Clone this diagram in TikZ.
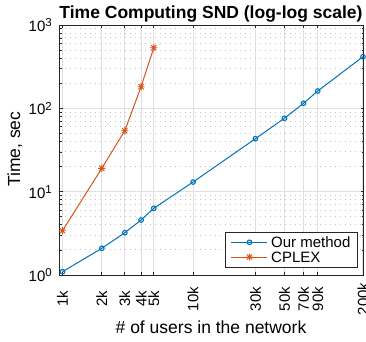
\documentclass[tikz,border=0pt]{standalone}
\usepackage{fontspec}
\setmainfont{Liberation Sans}
\definecolor{mblue}{rgb}{0,0.447,0.741}
\definecolor{morange}{rgb}{0.85,0.325,0.098}
\definecolor{gridc}{gray}{0.88}
\definecolor{mgridc}{gray}{0.78}
\definecolor{axc}{gray}{0.15}
\newcommand\tenpow[1]{10\raisebox{4.6pt}{\fontsize{11.5}{12}\selectfont #1}}
\begin{document}
\begin{tikzpicture}[x=1pt,y=-1pt,
  majorgrid/.style={gridc, line width=1.1pt},
  minorgrid/.style={mgridc, line width=0.9pt, dash pattern=on 1.1pt off 3.9pt},
  axisline/.style={axc, line width=0.9pt},
  tickline/.style={axc, line width=0.7pt},
  ticklab/.style={font=\fontsize{15}{18}\selectfont, inner sep=0pt},
  bluecurve/.style={mblue, line width=1pt},
  orangecurve/.style={morange, line width=1pt},
  circmark/.style={draw=mblue, line width=1.1pt, circle, minimum size=4.6pt, inner sep=0pt, fill=none},
]
\useasboundingbox (0,0) rectangle (366,341);
\def\L{59.5}\def\R{363.5}\def\T{25}\def\B{275}
% minor horizontal grid
\foreach \k in {0,1,2}{
  \foreach \m in {2,...,9}{
    \pgfmathsetmacro\yy{\B-83.333*(\k+log10(\m))}
    \draw[minorgrid] (\L,\yy) -- (\R,\yy);
  }
}
% major horizontal grid
\foreach \yy in {191.667,108.333}{
  \draw[majorgrid] (\L,\yy) -- (\R,\yy);
}
% major vertical grid and x ticks
\foreach \xx/\lab in {62.5/1k,101.8/2k,124.8/3k,141.1/4k,153.8/5k,193.1/10k,255.4/30k,284.4/50k,303.5/70k,317.7/90k,363.0/200k}{
  \draw[majorgrid] (\xx,\T) -- (\xx,\B);
  \draw[tickline] (\xx,\B) -- (\xx,\B-3);
  \draw[tickline] (\xx,\T) -- (\xx,\T+3);
  \node[ticklab, rotate=90, anchor=center] at (\xx,299) {\lab};
}
% y ticks
\foreach \k in {0,1,2}{
  \foreach \m in {2,...,9}{
    \pgfmathsetmacro\yy{\B-83.333*(\k+log10(\m))}
    \draw[tickline] (\L,\yy) -- (\L+2,\yy);
    \draw[tickline] (\R,\yy) -- (\R-2,\yy);
  }
}
\foreach \yy in {191.667,108.333}{
  \draw[tickline] (\L,\yy) -- (\L+3,\yy);
  \draw[tickline] (\R,\yy) -- (\R-3,\yy);
}
% y tick labels
\node[ticklab, anchor=base east] (y0) at (52,281.5) {\tenpow{0}};
\node[ticklab, anchor=base east] (y1) at (52,198.2) {\tenpow{1}};
\node[ticklab, anchor=base east] (y2) at (52,114.8) {\tenpow{2}};
\node[ticklab, anchor=base east] (y3) at (52,31.5) {\tenpow{3}};
% axis box
\draw[axisline] (\L,\T) rectangle (\R,\B);
% data: our method
\coordinate (b1) at (62.5,271.7);
\coordinate (b2) at (101.8,248.3);
\coordinate (b3) at (124.8,232.7);
\coordinate (b4) at (141.1,220.0);
\coordinate (b5) at (153.8,208.3);
\coordinate (b6) at (193.1,182.0);
\coordinate (b7) at (255.4,138.7);
\coordinate (b8) at (284.4,118.3);
\coordinate (b9) at (303.5,103.3);
\coordinate (b10) at (317.7,91.0);
\coordinate (b11) at (363.0,56.7);
\draw[bluecurve] (b1) -- (b2) -- (b3) -- (b4) -- (b5) -- (b6) -- (b7) -- (b8) -- (b9) -- (b10) -- (b11);
\foreach \i in {1,...,11}{ \node[circmark] (bm\i) at (b\i) {}; }
% data: CPLEX
\coordinate (c1) at (62.5,230.7);
\coordinate (c2) at (101.8,168.3);
\coordinate (c3) at (124.8,130.7);
\coordinate (c4) at (141.1,86.7);
\coordinate (c5) at (153.8,47.7);
\draw[orangecurve] (c1) -- (c2) -- (c3) -- (c4) -- (c5);
\foreach \i in {1,...,5}{
  \draw[morange, line width=0.9pt] (c\i) +(-3.6,0) -- +(3.6,0) +(0,-3.6) -- +(0,3.6)
     +(-2.6,-2.6) -- +(2.6,2.6) +(-2.6,2.6) -- +(2.6,-2.6);
}
% legend
\node[draw=axc, line width=0.8pt, fill=white, anchor=north west, minimum width=132.3pt, minimum height=35.3pt, inner sep=0pt] (legend) at (224.7,232) {};
\coordinate (l1a) at (231.3,242.3);
\coordinate (l1b) at (267,242.3);
\coordinate (l1m) at (249.5,242.3);
\coordinate (l2a) at (231.3,257);
\coordinate (l2b) at (267,257);
\coordinate (l2m) at (249.5,257);
\draw[bluecurve] (l1a) -- (l1b);
\node[circmark] (lm1) at (l1m) {};
\draw[orangecurve] (l2a) -- (l2b);
\draw[morange, line width=0.9pt] (l2m) +(-3.6,0) -- +(3.6,0) +(0,-3.6) -- +(0,3.6)
     +(-2.6,-2.6) -- +(2.6,2.6) +(-2.6,2.6) -- +(2.6,-2.6);
\node[ticklab, anchor=base west] (lt1) at (271,247.7) {Our method};
\node[ticklab, anchor=base west] (lt2) at (271,262.4) {CPLEX};
% labels
\node[font=\bfseries\fontsize{17.5}{20}\selectfont, anchor=base, inner sep=0pt] (title) at (211,18.5) {Time Computing SND (log-log scale)};
\node[font=\fontsize{17.5}{20}\selectfont, anchor=base, inner sep=0pt] (xlab) at (211,333) {\# of users in the network};
\node[font=\fontsize{17.5}{20}\selectfont, anchor=base, rotate=90, inner sep=0pt] (ylab) at (20,149.2) {Time, sec};
\end{tikzpicture}
\end{document}
